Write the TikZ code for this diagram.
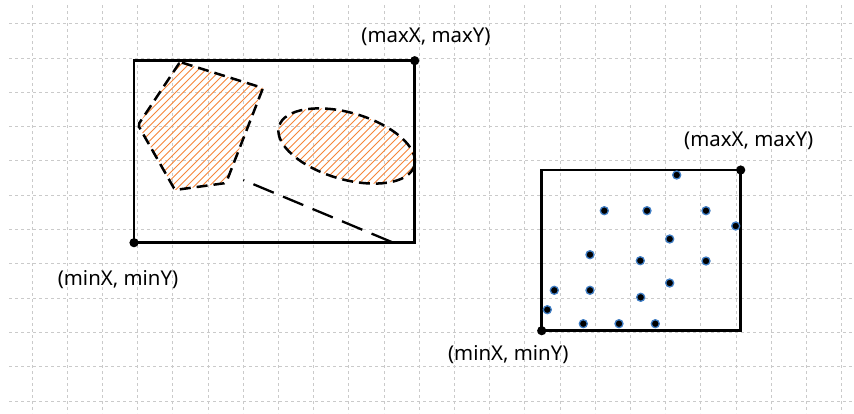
\documentclass[tikz,border=0pt]{standalone}
\usepackage{fontspec}
\setmainfont{Noto Sans}
\definecolor{GridGray}{HTML}{CACACA}
\definecolor{Hatch}{HTML}{F5863A}
\definecolor{DotBlue}{HTML}{3F7DC4}

\begin{document}
\begin{tikzpicture}[x=1pt, y=-1pt,
  grid/.style={draw=GridGray, line width=1pt, dash pattern=on 3pt off 3pt},
  frame/.style={draw=black, line width=2.7pt},
  region/.style={draw=black, line width=2.5pt, dash pattern=on 11pt off 6pt},
  hatch/.style={draw=Hatch, line width=1pt},
  cut/.style={draw=black, line width=2.3pt, dash pattern=on 22pt off 10pt, dash phase=21pt},
  sample/.style={circle, fill=black, draw=DotBlue, line width=1.3pt, inner sep=0pt, minimum size=8pt},
  lbl/.style={font=\fontsize{20.4}{22}\selectfont, inner sep=0pt}]
\useasboundingbox (0,0) rectangle (854,413);
% background grid
\foreach \i in {0,...,23}
  \draw[grid] (32+35.2*\i,5) -- (32+35.2*\i,413);
\foreach \j in {0,...,11}
  \draw[grid] (9,401-34.3*\j) -- (854,401-34.3*\j);

% left box: polygon and ellipse
\coordinate (lmin) at (134,242.7);
\coordinate (lmax) at (414.7,60.7);
\coordinate (ecen) at (346.7,146);
\begin{scope}
  \clip (180,62) -- (263,88) -- (226,183) -- (175,190) -- (138,125) -- cycle;
  \foreach \c in {238,245.5,...,420}
    \draw[hatch] (\c,0) -- (\c-420,420);
\end{scope}
\begin{scope}
  \clip[rotate around={-16.3:(ecen)}] (ecen) ellipse[x radius=70.5, y radius=33.3];
  \foreach \c in {385,392.5,...,600}
    \draw[hatch] (\c,0) -- (\c-420,420);
\end{scope}
\draw[region, rounded corners=2pt] (180,62) -- (263,88) -- (226,183) -- (175,190) -- (138,125) -- cycle;
\draw[region, rotate around={-16.3:(ecen)}] (ecen) ellipse[x radius=70.5, y radius=33.3];
\coordinate (cutA) at (243.3,180);
\coordinate (cutB) at (393.3,242.7);
\draw[cut] (cutA) -- (cutB);
\draw[frame] (lmin) rectangle (lmax);
\fill (lmin) circle[radius=4.6pt];
\fill (lmax) circle[radius=4.6pt];
\node[lbl] (lmaxlbl) at (426,37) {(maxX, maxY)};
\node[lbl] (lminlbl) at (118,280) {(minX, minY)};

% right box: sample points
\coordinate (rmin) at (541.7,330.7);
\coordinate (rmax) at (740.7,170);
\draw[frame] (rmin) rectangle (rmax);
\foreach \x/\y [count=\n] in {676.7/175, 604.3/210.7, 647/210.7, 706/210.7, 735.7/226,
    669.7/239, 590/254.7, 640.3/260.7, 706/261, 669.7/283, 554.3/290.3, 590/290.3,
    640.7/297.3, 547.3/309.7, 583.3/323.7, 619/323.7, 655.3/323.7}
  \node[sample] (s\n) at (\x,\y) {};
\fill (rmin) circle[radius=4.6pt];
\fill (rmax) circle[radius=4.6pt];
\node[lbl] (rmaxlbl) at (748.7,141) {(maxX, maxY)};
\node[lbl] (rminlbl) at (508.3,355) {(minX, minY)};
\end{tikzpicture}
\end{document}
